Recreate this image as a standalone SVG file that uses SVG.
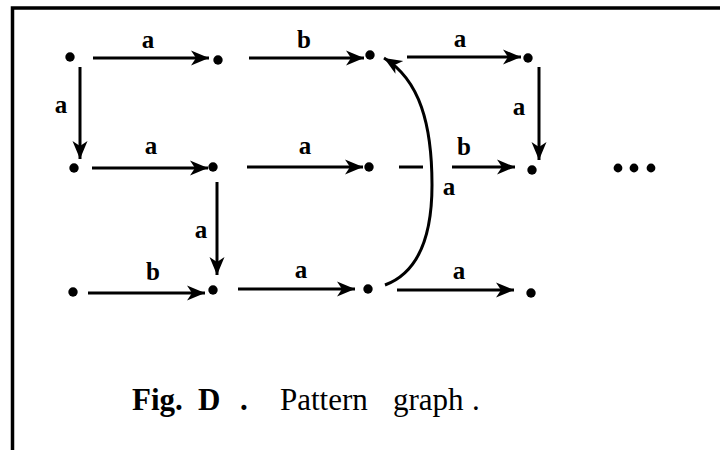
<svg xmlns="http://www.w3.org/2000/svg" width="720" height="450" viewBox="0 0 720 450">
<style>
.edge{stroke:#000;stroke-width:3;fill:none}
.dot{fill:#000}
.lbl{font-family:"Liberation Serif","Times New Roman",serif;font-size:25px;font-weight:bold;fill:#000;text-anchor:middle}
.cap{font-family:"Liberation Serif","Times New Roman",serif;font-size:31px;fill:#000}
</style>
<defs>
<marker id="arr" markerUnits="userSpaceOnUse" markerWidth="22" markerHeight="18" refX="18" refY="8" orient="auto">
<path d="M0,0.5 L18,8 L0,15.5 L5,8 z" fill="#000"/>
</marker>
</defs>
<rect width="720" height="450" fill="#fff"/>
<g id="frame" stroke="#000" stroke-width="3.5" fill="none">
<path d="M720,8 L12.5,8 L12.5,450"/>
</g>
<g id="connectors">
<line class="edge" x1="93" y1="58" x2="209" y2="58" marker-end="url(#arr)"/>
<text class="lbl" x="148" y="48">a</text>
<line class="edge" x1="249" y1="58" x2="364" y2="58" marker-end="url(#arr)"/>
<text class="lbl" x="304" y="48">b</text>
<line class="edge" x1="407" y1="57" x2="521" y2="57" marker-end="url(#arr)"/>
<text class="lbl" x="460" y="47">a</text>
<line class="edge" x1="80" y1="67" x2="80" y2="159" marker-end="url(#arr)"/>
<text class="lbl" x="61" y="113">a</text>
<line class="edge" x1="539" y1="67" x2="539" y2="160" marker-end="url(#arr)"/>
<text class="lbl" x="519" y="115">a</text>
<line class="edge" x1="92" y1="168" x2="208" y2="168" marker-end="url(#arr)"/>
<text class="lbl" x="151" y="154">a</text>
<line class="edge" x1="247" y1="167" x2="363" y2="167" marker-end="url(#arr)"/>
<text class="lbl" x="305" y="154">a</text>
<line class="edge" x1="399" y1="167" x2="423" y2="167"/>
<line class="edge" x1="452" y1="167" x2="515" y2="167" marker-end="url(#arr)"/>
<text class="lbl" x="464" y="155">b</text>
<line class="edge" x1="217" y1="182" x2="217" y2="275" marker-end="url(#arr)"/>
<text class="lbl" x="201" y="238">a</text>
<path class="edge" d="M385,285 C420,272 432,232 432,185 C432,125 420,80 384,58" marker-end="url(#arr)"/>
<text class="lbl" x="449" y="195">a</text>
<line class="edge" x1="88" y1="293" x2="205" y2="293" marker-end="url(#arr)"/>
<text class="lbl" x="153" y="280">b</text>
<line class="edge" x1="238" y1="289" x2="355" y2="289" marker-end="url(#arr)"/>
<text class="lbl" x="301" y="278">a</text>
<line class="edge" x1="397" y1="290" x2="514" y2="290" marker-end="url(#arr)"/>
<text class="lbl" x="459" y="279">a</text>
</g>
<g id="n1"><circle class="dot" cx="70" cy="57" r="4.7"/></g>
<g id="n2"><circle class="dot" cx="218" cy="60" r="4.7"/></g>
<g id="n3"><circle class="dot" cx="370" cy="55" r="4.7"/></g>
<g id="n4"><circle class="dot" cx="528" cy="58" r="4.7"/></g>
<g id="n5"><circle class="dot" cx="74" cy="168" r="4.7"/></g>
<g id="n6"><circle class="dot" cx="213" cy="167" r="4.7"/></g>
<g id="n7"><circle class="dot" cx="369" cy="167" r="4.7"/></g>
<g id="n8"><circle class="dot" cx="532" cy="170" r="4.7"/></g>
<g id="n9"><circle class="dot" cx="73" cy="292" r="4.7"/></g>
<g id="n10"><circle class="dot" cx="213" cy="290" r="4.7"/></g>
<g id="n11"><circle class="dot" cx="368" cy="289" r="4.7"/></g>
<g id="n12"><circle class="dot" cx="531" cy="293" r="4.7"/></g>
<g id="ellipsis">
<circle class="dot" cx="618" cy="168" r="4.4"/>
<circle class="dot" cx="634" cy="168" r="4.4"/>
<circle class="dot" cx="651" cy="168" r="4.4"/>
</g>
<g id="caption">
<text class="cap" x="132" y="410" font-weight="bold">Fig.</text>
<text class="cap" x="198" y="410" font-weight="bold">D</text>
<text class="cap" x="240" y="410" font-weight="bold">.</text>
<text class="cap" x="280" y="410">Pattern</text>
<text class="cap" x="393" y="410">graph</text>
<text class="cap" x="472" y="410">.</text>
</g>
</svg>
